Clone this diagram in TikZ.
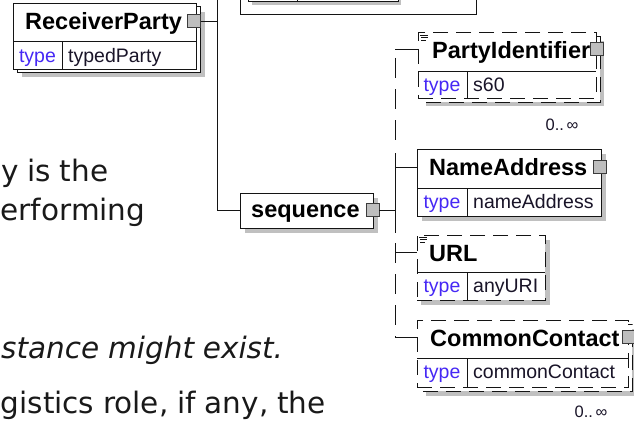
\documentclass[tikz,border=0pt]{standalone}
\usepackage{fontspec}
\setmainfont{Liberation Sans}
\newfontfamily\bodyfont{DejaVu Sans}
\definecolor{linec}{RGB}{20,20,20}
\definecolor{shadowc}{RGB}{192,192,192}
\definecolor{btnfill}{RGB}{190,190,190}
\definecolor{btnline}{RGB}{60,60,60}
\definecolor{typec}{RGB}{70,40,245}
\definecolor{valc}{RGB}{25,20,40}
\definecolor{bodyc}{RGB}{25,25,25}
\newcommand\titlef{\fontsize{23.5}{26}\selectfont\bfseries}
\newcommand\valf{\fontsize{19.5}{22}\selectfont}
\newcommand\multf{\fontsize{16.5}{18}\selectfont}
\newcommand\bodyf{\bodyfont\fontsize{29.5}{36}\selectfont\spaceskip=0.3em plus 0.05em minus 0.05em\relax}
\tikzset{
  conn/.style={draw=linec, line width=1pt},
  el/.style={draw=linec, fill=white, line width=1pt, inner sep=0pt, outer sep=0pt, anchor=north west},
  opt/.style={dash pattern=on 15pt off 8pt},
  vdash/.style={dash pattern=on 20pt off 11pt},
  btn/.style={draw=btnline, fill=btnfill, line width=1pt, minimum width=13pt, minimum height=13pt, inner sep=0pt, outer sep=0pt},
  ttl/.style={font=\titlef, text=black, anchor=base west, inner sep=0pt},
  lbl/.style={font=\valf, text=typec, anchor=base, inner sep=0pt},
  val/.style={font=\valf, text=valc, anchor=base west, inner sep=0pt},
  mult/.style={font=\multf, text=valc, anchor=base, inner sep=0pt},
  body/.style={font=\bodyf, text=bodyc, anchor=base west, inner sep=0pt},
  icon/.style={draw=linec, line width=0.8pt}
}
\begin{document}
\begin{tikzpicture}[x=1pt,y=-1pt]
\useasboundingbox (0,0) rectangle (634,420);
\clip (0,0) rectangle (634,420);

% body text from the underlying document
\node[body] (t1) at (1,181) {y is the};
\node[body] (t2) at (0.5,220) {erforming};
\node[body, font=\bodyf\itshape] (t3) at (1,358) {stance might exist.};
\node[body] (t4) at (0.5,413) {gistics role, if any, the};

% fragment of box at the top
\draw[conn] (240,-3) -- (240,15) -- (476,15) -- (476,-3);
\fill[shadowc] (252,-3) rectangle (401,5);
\draw[conn, fill=white] (248,-3) rectangle (398,2);
\draw[conn] (297,-3) -- (297,2);

% ReceiverParty
\fill[shadowc] (22,12) rectangle (205,77);
\draw[conn, fill=white] (17,7) rectangle (200,72);
\node[el, minimum width=183pt, minimum height=65pt] (rp) at (13,4) {};
\draw[conn] (13,42) -- (196,42) (62,42) -- (62,69);
\node[ttl] (rpt) at (25,30) {ReceiverParty};
\node[lbl] (rpl) at (37.5,62.5) {type};
\node[val] (rpv) at (68,62.5) {typedParty};
\node[btn] (rpb) at (194,21.5) {};

% sequence
\fill[shadowc] (245,198) rectangle (378,233);
\node[el, minimum width=133pt, minimum height=35pt] (seq) at (240,193) {};
\node[ttl] (seqt) at (251,217) {sequence};
\node[btn] (seqb) at (372.5,210) {};

% connectors of ReceiverParty
\coordinate (top) at (217,-2);
\coordinate (j1) at (217,21.5);
\draw[conn] (rpb.east) -- (j1);
\draw[conn] (top) |- (seq.west);

% PartyIdentifier
\fill[shadowc] (426,41) rectangle (604,106);
\draw[conn, opt, fill=white] (422,37) rectangle (600,102);
\node[el, opt, minimum width=178pt, minimum height=65pt] (pi) at (418,33) {};
\draw[conn] (418,71) -- (596,71) (467,71) -- (467,98);
\draw[icon] (420,35) -- (428,35) (421,37.5) -- (428,37.5) (421,40) -- (426,40);
\node[ttl] (pit) at (432,59) {PartyIdentifier};
\node[lbl] (pil) at (442,91.5) {type};
\node[val] (piv) at (473,91.5) {s60};
\node[btn] (pib) at (597,49.5) {};
\node[mult] (pim) at (562,130) {0..\,∞};

% NameAddress
\fill[shadowc] (422,154) rectangle (606,221);
\node[el, minimum width=184pt, minimum height=67pt] (na) at (417,149) {};
\draw[conn] (417,188) -- (601,188) (467,188) -- (467,216);
\node[ttl] (nat) at (429,175) {NameAddress};
\node[lbl] (nal) at (442,208.5) {type};
\node[val] (nav) at (473,208.5) {nameAddress};
\node[btn] (nab) at (600,166.5) {};

% URL
\fill[shadowc] (421,240) rectangle (550,305);
\node[el, opt, minimum width=128pt, minimum height=65pt] (url) at (417,235) {};
\draw[conn] (417,272) -- (545,272) (467,272) -- (467,300);
\draw[icon] (419,237) -- (427,237) (420,239.5) -- (427,239.5) (420,242) -- (425,242);
\node[ttl] (urlt) at (429,261) {URL};
\node[lbl] (urll) at (442,292.5) {type};
\node[val] (urlv) at (473,292.5) {anyURI};

% CommonContact
\fill[shadowc] (426,329) rectangle (637,396);
\draw[conn, opt, fill=white] (421,324) rectangle (632,391);
\node[el, opt, minimum width=211pt, minimum height=67pt] (cc) at (417,320) {};
\draw[conn] (417,358) -- (628,358) (467,358) -- (467,387);
\node[ttl] (cct) at (430,346) {CommonContact};
\node[lbl] (ccl) at (442,378.5) {type};
\node[val] (ccv) at (473,378.5) {commonContact};
\node[btn] (ccb) at (629,336.5) {};
\node[mult] (ccm) at (591,417) {0..\,∞};

% sequence connectors
\coordinate (sj) at (395,210);
\coordinate (b1) at (395,50);
\coordinate (b2) at (395,167);
\coordinate (b3) at (395,252);
\coordinate (b4) at (395,337);
\draw[conn] (seqb.east) -- (sj);
\draw[conn, vdash] (395,58) -- (395,148);
\draw[conn] (395,153) -- (395,233);
\draw[conn, vdash] (395,243) -- (b4);
\draw[conn] (b1) -- (b1 -| pi.west);
\draw[conn] (b2) -- (b2 -| na.west);
\draw[conn] (b3) -- (b3 -| url.west);
\draw[conn] (b4) -- (b4 -| cc.west);
\end{tikzpicture}
\end{document}
